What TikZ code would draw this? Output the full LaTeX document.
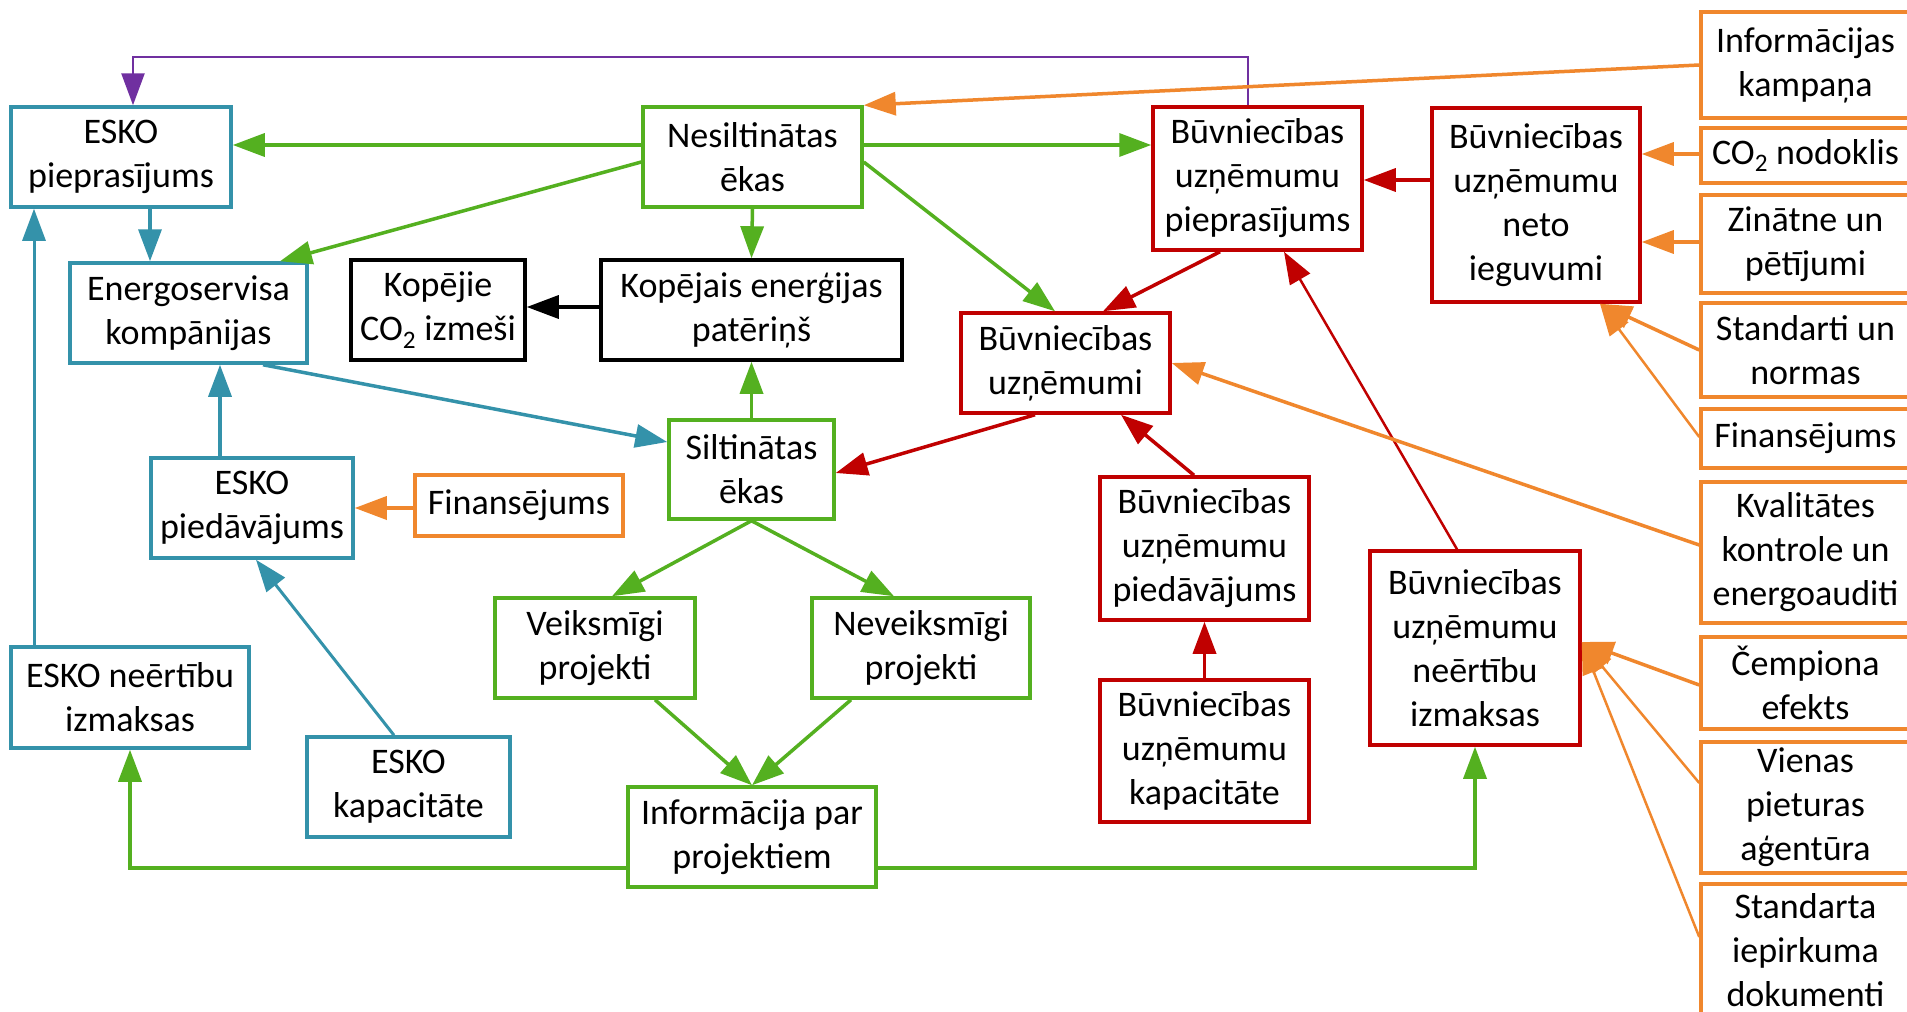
\documentclass[tikz,border=0pt]{standalone}
\usepackage{fontspec}
\setmainfont{Carlito}
\usetikzlibrary{arrows.meta}
\definecolor{cgreen}{RGB}{84,176,32}
\definecolor{cblue}{RGB}{52,146,170}
\definecolor{cred}{RGB}{192,0,0}
\definecolor{corange}{RGB}{240,135,45}
\definecolor{cpurple}{RGB}{112,48,160}
\begin{document}
\begin{tikzpicture}[x=1pt,y=-1pt,
  box/.style={draw, line width=3.5pt, fill=white, inner sep=0pt, align=center,
    font=\fontsize{36}{44}\selectfont, text=black},
  bx/.style 2 args={minimum width=#1pt, minimum height=#2pt},
  con/.style={line width=3.5pt, -{Triangle[length=32pt,width=23pt]}},
  thin/.style={line width=2.5pt, -{Triangle[length=32pt,width=23pt]}},
  gb/.style={box, draw=cgreen}, bb/.style={box, draw=cblue},
  rb/.style={box, draw=cred}, ob/.style={box, draw=corange}, kb/.style={box, draw=black}]
\useasboundingbox (0,0) rectangle (1907,1012);
\clip (0,0) rectangle (1907,1012);
\fill[white] (0,0) rectangle (1907,1012);

% left / middle
\node[bb, bx={220}{100}] (eskop) at (121,157) {ESKO\\pieprasījums};
\node[gb, bx={219}{100}] (nes) at (752.5,157) {Nesiltinātas\\ēkas};
\node[bb, bx={237}{100}] (energ) at (188.5,313) {Energoservisa\\kompānijas};
\node[kb, bx={174}{100}] (co2) at (438,310) {Kopējie\\CO\textsubscript{2} izmeši};
\node[kb, bx={301}{100}] (kopej) at (751.5,310) {Kopējais enerģijas\\patēriņš};
\node[gb, bx={165}{99}] (silt) at (751.5,469.5) {Siltinātas\\ēkas};
\node[bb, bx={202}{100}] (eskopd) at (252,508) {ESKO\\piedāvājums};
\node[ob, bx={208}{61}] (fin1) at (519,505.5) {Finansējums};
\node[gb, bx={200}{100}] (veik) at (595,648) {Veiksmīgi\\projekti};
\node[gb, bx={218}{100}] (nevk) at (921,648) {Neveiksmīgi\\projekti};
\node[bb, bx={238}{101}] (eskone) at (130,697.5) {ESKO neērtību\\izmaksas};
\node[bb, bx={203}{100}] (eskokap) at (408.5,787) {ESKO\\kapacitāte};
\node[gb, bx={248}{100}] (info) at (752,837) {Informācija par\\projektiem};

% red
\node[rb, bx={209}{143}] (bpiep) at (1257.5,178.5) {Būvniecības\\uzņēmumu\\pieprasījums};
\node[rb, bx={208}{194}] (neto) at (1536,205) {Būvniecības\\uzņēmumu\\neto\\ieguvumi};
\node[rb, bx={209}{100}] (bu) at (1065.5,363) {Būvniecības\\uzņēmumi};
\node[rb, bx={209}{143}] (bpd) at (1204.5,548.5) {Būvniecības\\uzņēmumu\\piedāvājums};
\node[rb, bx={210}{194}] (bne) at (1475,648) {Būvniecības\\uzņēmumu\\neērtību\\izmaksas};
\node[rb, bx={209}{142}] (bkap) at (1204.5,751) {Būvniecības\\uzņēmumu\\kapacitāte};

% right column (orange)
\node[ob, bx={209}{106}] (ik) at (1805.5,65) {Informācijas\\kampaņa};
\node[ob, bx={209}{55}] (co2n) at (1805.5,155.5) {CO\textsubscript{2} nodoklis};
\node[ob, bx={209}{98}] (zin) at (1805.5,244) {Zinātne un\\pētījumi};
\node[ob, bx={209}{94}] (std) at (1805.5,350) {Standarti un\\normas};
\node[ob, bx={209}{59}] (fin2) at (1805.5,438.5) {Finansējums};
\node[ob, bx={209}{141}] (kval) at (1805.5,552.5) {Kvalitātes\\kontrole un\\energoauditi};
\node[ob, bx={209}{92}] (cemp) at (1805.5,683) {Čempiona\\efekts};
\node[ob, bx={209}{131}] (vien) at (1805.5,807.5) {Vienas\\pieturas\\aģentūra};
\node[ob, bx={209}{133}] (stdi) at (1805.5,950.5) {Standarta\\iepirkuma\\dokumenti};

% green connectors
\draw[con, cgreen] (nes.west |- 0,145) -- (eskop.east |- 0,145);
\draw[con, cgreen] (nes.west |- 0,162) -- (energ.north -| 280,0);
\draw[con, cgreen] (nes.south) -- (kopej.north);
\draw[con, cgreen] (silt.north) -- (kopej.south);
\draw[con, cgreen] (nes.east |- 0,145) -- (bpiep.west |- 0,145);
\draw[con, cgreen] (nes.east |- 0,162) -- (bu.north -| 1055,0);
\draw[con, cgreen] (silt.south) -- (veik.north -| 612,0);
\draw[con, cgreen] (silt.south) -- (nevk.north -| 894,0);
\draw[con, cgreen] (veik.south -| 655,0) -- (info.north);
\draw[con, cgreen] (nevk.south -| 851,0) -- (info.north);
\draw[con, cgreen] (info.west |- 0,868) -| (eskone.south);
\draw[con, cgreen] (info.east |- 0,868) -| (bne.south);

% black
\draw[con, black] (kopej.west |- 0,307) -- (co2.east |- 0,307);

% blue
\draw[con, cblue] (eskop.south -| 150,0) -- (energ.north -| 150,0);
\draw[con, cblue] (energ.south -| 263,0) -- (silt.west |- 0,442);
\draw[con, cblue] (eskopd.north -| 220,0) -- (energ.south -| 220,0);
\draw[thin, cblue, line width=3pt] (eskokap.north -| 394,0) -- (eskopd.south -| 256,0);
\draw[thin, cblue, line width=3pt] (eskone.north -| 34,0) -- (eskop.south -| 34,0);

% purple
\draw[thin, cpurple] (bpiep.north -| 1248,0) |- (133,57) -- (eskop.north -| 133,0);

% red
\draw[con, cred] (neto.west |- 0,180) -- (bpiep.east |- 0,180);
\draw[con, cred] (bpiep.south -| 1220,0) -- (bu.north -| 1103,0);
\draw[con, cred] (bu.south -| 1035,0) -- (silt.east |- 0,473);
\draw[con, cred] (bpd.north -| 1194,0) -- (bu.south -| 1121,0);
\draw[con, cred] (bkap.north) -- (bpd.south);
\draw[thin, cred] (bne.north -| 1457,0) -- (bpiep.south -| 1284,0);

% orange
\draw[con, corange] (fin1.west |- 0,508) -- (eskopd.east |- 0,508);
\draw[con, corange] (ik.west |- 0,65) -- (nes.north east);
\draw[con, corange] (co2n.west |- 0,154) -- (neto.east |- 0,154);
\draw[con, corange] (zin.west |- 0,242) -- (neto.east |- 0,242);
\draw[con, corange] (std.west |- 0,350) -- (neto.south -| 1600,0);
\draw[thin, corange] (fin2.west |- 0,437) -- (neto.south -| 1600,0);
\draw[con, corange] (kval.west |- 0,545) -- (bu.east |- 0,363);
\draw[con, corange] (cemp.west |- 0,685) -- (bne.east |- 0,642);
\draw[thin, corange] (vien.west |- 0,783) -- (bne.east |- 0,642);
\draw[thin, corange] (stdi.west |- 0,937) -- (bne.east |- 0,642);
\end{tikzpicture}
\end{document}
